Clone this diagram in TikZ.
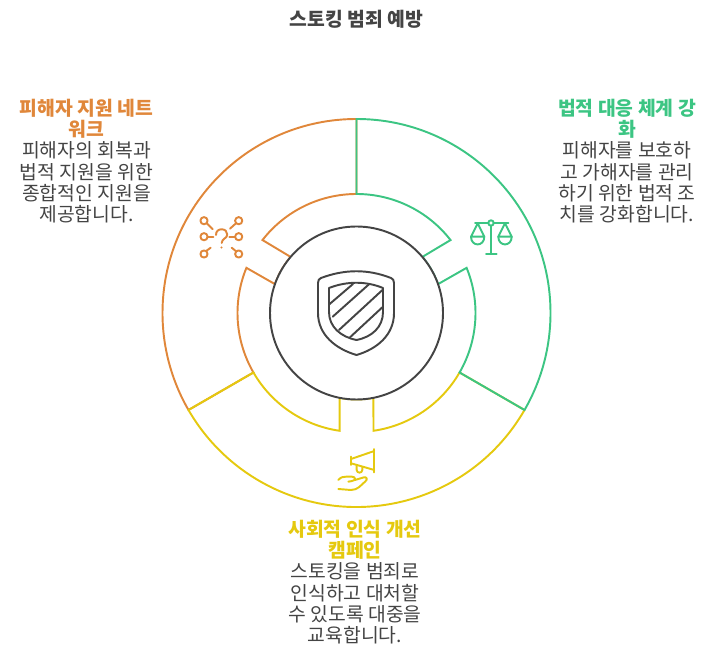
\documentclass[tikz,border=0pt]{standalone}
\usepackage{fontspec}
\setmainfont{Noto Sans CJK KR}
\usepackage{xcolor}
\usetikzlibrary{calc,positioning}
\definecolor{greenc}{HTML}{3CC583}
\definecolor{orangec}{HTML}{E0873A}
\definecolor{yellowc}{HTML}{E5C90F}
\definecolor{darkc}{HTML}{444444}

\begin{document}
\begin{tikzpicture}[
    x=0.02cm, y=0.02cm,
    seg/.style={line width=1.1pt, line join=miter},
    icon/.style={line width=1.1pt, line cap=round, line join=round},
    heading/.style={font=\fontsize{11}{12.2}\selectfont\bfseries, align=center, inner sep=0pt},
    body/.style={font=\fontsize{11}{12.2}\selectfont, text=darkc, align=center, inner sep=0pt},
    hub/.style={circle, draw=darkc, fill=white, line width=1.1pt, minimum size=173*0.02cm, inner sep=0pt},
]
\useasboundingbox (0,0) rectangle (713,659);
\coordinate (ctr) at (356.5,346);

% Title
\node[font=\fontsize{11}{12}\selectfont\bfseries, text=darkc, inner sep=0pt] (title) at (356.5,640) {스토킹 범죄 예방};

% Three segments
\draw[seg, orangec] ($(ctr)+(90:194)$) arc[start angle=90, end angle=210, radius=194]
    -- ($(ctr)+(210:119)$) arc[start angle=210, end angle=157.7, radius=119]
    -- ($(ctr)+(160.5:86.5)$) arc[start angle=160.5, end angle=139.6, radius=86.5]
    -- ($(ctr)+(142.2:119)$) arc[start angle=142.2, end angle=90, radius=119] -- cycle;
\draw[seg, yellowc] ($(ctr)+(-30:194)$) arc[start angle=-30, end angle=-150, radius=194]
    -- ($(ctr)+(-150:119)$) arc[start angle=-150, end angle=-98.2, radius=119]
    -- ($(ctr)+(-101.3:86.5)$) arc[start angle=-101.3, end angle=-78.7, radius=86.5]
    -- ($(ctr)+(-81.8:119)$) arc[start angle=-81.8, end angle=-30, radius=119] -- cycle;
\draw[seg, greenc] ($(ctr)+(90:194)$) arc[start angle=90, end angle=-30, radius=194]
    -- ($(ctr)+(-30:119)$) arc[start angle=-30, end angle=22.3, radius=119]
    -- ($(ctr)+(19.5:86.5)$) arc[start angle=19.5, end angle=40.4, radius=86.5]
    -- ($(ctr)+(37.8:119)$) arc[start angle=37.8, end angle=90, radius=119] -- cycle;

% Centre
\node[hub] (hub) at (ctr) {};

% Icons, written in picture pixels from the top
\begin{scope}[shift={(0,659)}, yscale=-1]
% shield
\draw[icon, darkc] (318,283) .. controls (318,280) and (319,279) .. (321,278) .. controls (345,269) and (368,269) .. (391,278) .. controls (393,279) and (394,280) .. (394,283)
    -- (394,313) .. controls (394,335) and (377,349) .. (356.5,355) .. controls (336,349) and (318,335) .. (318,313) -- cycle;
\draw[icon, darkc] (329,288) .. controls (347,281) and (366,281) .. (383,288)
    -- (383,312) .. controls (383,327) and (372,337) .. (356.5,340) .. controls (341,337) and (329,327) .. (329,312) -- cycle;
\draw[icon, darkc] (329.3,304.3) -- (353,284);
\draw[icon, darkc] (332.7,316.7) -- (369.3,284);
\draw[icon, darkc] (339,330) -- (383,289.5);
\draw[icon, darkc] (350,337.3) -- (383,306.7);
% network with question mark
\foreach \px/\py in {204/220.7, 204/236.7, 204/254, 238.7/220.7, 238.7/236.7, 238.7/254}
    \draw[icon, orangec] (\px,\py) circle[radius=3.6];
\draw[icon, orangec] (206.7,223.3) -- (212.7,229.3);
\draw[icon, orangec] (207.6,236.7) -- (213.3,236.7);
\draw[icon, orangec] (205.9,251.2) -- (210.7,247.7);
\draw[icon, orangec] (236,223.3) -- (230,228.7);
\draw[icon, orangec] (235.1,236.7) -- (229.3,236.7);
\draw[icon, orangec] (236.2,251.4) -- (231.7,247.7);
\draw[icon, orangec] (216,235) .. controls (216,231) and (218.5,229.3) .. (221.7,229.3) .. controls (225,229.3) and (227.3,231.5) .. (227.3,234.5) .. controls (227.3,238.5) and (221.7,238.5) .. (221.7,243);
\fill[orangec] (221.5,247.5) circle[radius=1.1];
% scales
\draw[icon, greenc] (475,222.7) -- (488.3,222.7);
\draw[icon, greenc] (493.7,222.7) -- (508.3,222.7);
\draw[icon, greenc] (491,223) circle[radius=2.7];
\draw[icon, greenc] (491,225.7) -- (491,253.5);
\draw[icon, greenc] (486,253.7) -- (496.7,253.7);
\draw[icon, greenc] (477.7,223.3) -- (471,236.7) -- (484.3,236.7) -- cycle;
\draw[icon, greenc] (471,236.7) .. controls (471,247) and (484.3,247) .. (484.3,236.7);
\draw[icon, greenc] (505,223.3) -- (498.3,236.7) -- (511.7,236.7) -- cycle;
\draw[icon, greenc] (498.3,236.7) .. controls (498.3,247) and (511.7,247) .. (511.7,236.7);
% megaphone and hand
\draw[icon, yellowc] (374.3,449) -- (374.3,472.3);
\draw[icon, yellowc] (351,456.7) -- (351,465);
\draw[icon, yellowc] (351,459) -- (374.3,451);
\draw[icon, yellowc] (351,463.3) -- (374.3,470);
\draw[icon, yellowc] (356.7,465.7) -- (356.7,470) .. controls (356.7,473.5) and (362.3,473.5) .. (362.3,470) -- (362.3,467.3);
\draw[icon, yellowc] (338.3,480) .. controls (341,477) and (343,476.7) .. (346,476.7) -- (352,476.7) .. controls (356,476.7) and (356,480.5) .. (352,481) -- (348.3,481.7);
\draw[icon, yellowc] (355,480) -- (364,477.3) .. controls (367,476.8) and (368,479.5) .. (365,481.7) .. controls (361,485) and (358,490) .. (351,490) -- (338.3,489);
\end{scope}

% Orange text
\node[heading, text=orangec] (nethead) at (86.5,540.5) {피해자 지원 네트\\워크};
\node[body, below=1.5pt of nethead] (nettext) {피해자의 회복과\\법적 지원을 위한\\종합적인 지원을\\제공합니다.};

% Green text
\node[heading, text=greenc] (lawhead) at (627,540.5) {법적 대응 체계 강\\화};
\node[body, below=1.5pt of lawhead] (lawtext) {피해자를 보호하\\고 가해자를 관리\\하기 위한 법적 조\\치를 강화합니다.};

% Yellow text
\node[heading, text=yellowc] (camphead) at (355,119.5) {사회적 인식 개선\\캠페인};
\node[body, below=1.5pt of camphead] (camptext) {스토킹을 범죄로\\인식하고 대처할\\수 있도록 대중을\\교육합니다.};

\end{tikzpicture}
\end{document}
